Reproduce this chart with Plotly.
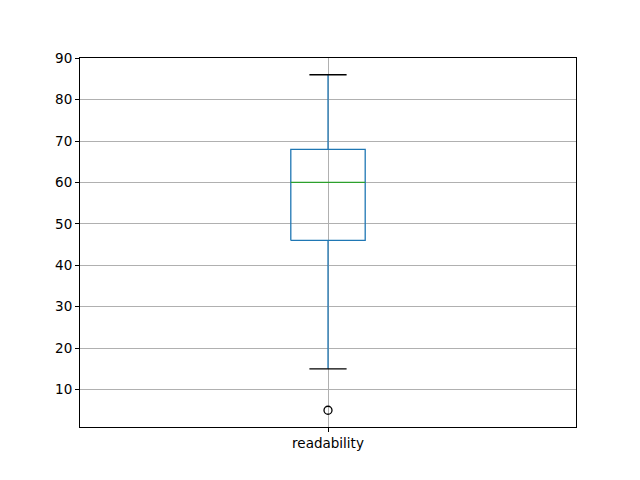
import plotly.graph_objects as go

category = ["readability"]
q1 = [46]
median = [60]
q3 = [68]
lower_whisker = [15]
upper_whisker = [86]
outliers = [[5]]

box_half = 0.075
cap_half = 0.0375

fig = go.Figure()
for i, name in enumerate(category):
    x0 = i + 1
    fig.add_trace(go.Scatter(
        x=[x0 - box_half, x0 + box_half, x0 + box_half, x0 - box_half, x0 - box_half],
        y=[q1[i], q1[i], q3[i], q3[i], q1[i]],
        mode="lines", line=dict(color="#1f77b4", width=1.3), hoverinfo="skip"))
    fig.add_trace(go.Scatter(x=[x0, x0], y=[q3[i], upper_whisker[i]], mode="lines",
                             line=dict(color="#1f77b4", width=1.3), hoverinfo="skip"))
    fig.add_trace(go.Scatter(x=[x0, x0], y=[q1[i], lower_whisker[i]], mode="lines",
                             line=dict(color="#1f77b4", width=1.3), hoverinfo="skip"))
    for v in (upper_whisker[i], lower_whisker[i]):
        fig.add_trace(go.Scatter(x=[x0 - cap_half, x0 + cap_half], y=[v, v], mode="lines",
                                 line=dict(color="black", width=1.3), hoverinfo="skip"))
    fig.add_trace(go.Scatter(x=[x0 - box_half, x0 + box_half], y=[median[i], median[i]],
                             mode="lines", line=dict(color="#2ca02c", width=1.3), hoverinfo="skip"))
    fig.add_trace(go.Scatter(x=[x0] * len(outliers[i]), y=outliers[i], mode="markers",
                             marker=dict(symbol="circle-open", size=8,
                                         line=dict(color="black", width=1.3), color="black"),
                             hoverinfo="skip"))

all_vals = lower_whisker + upper_whisker + [v for o in outliers for v in o]
lo, hi = min(all_vals), max(all_vals)
pad = (hi - lo) * 0.05

fig.update_layout(
    width=624, height=464,
    margin=dict(l=72, r=56, t=50, b=45),
    paper_bgcolor="white", plot_bgcolor="white",
    showlegend=False,
    font=dict(family="DejaVu Sans", size=13.5, color="black"),
    xaxis=dict(range=[0.5, len(category) + 0.5], tickmode="array",
               tickvals=list(range(1, len(category) + 1)), ticktext=category,
               showgrid=True, gridcolor="#b0b0b0", gridwidth=0.8,
               showline=True, linecolor="black", linewidth=1, mirror=True,
               ticks="outside", ticklen=4, tickcolor="black", zeroline=False,
               automargin=False),
    yaxis=dict(range=[lo - pad, hi + pad], tickmode="array",
               tickvals=list(range(10, 91, 10)),
               showgrid=True, gridcolor="#b0b0b0", gridwidth=0.8,
               showline=True, linecolor="black", linewidth=1, mirror=True,
               ticks="outside", ticklen=4, tickcolor="black", zeroline=False,
               automargin=False),
)

fig.write_html("out.html")
